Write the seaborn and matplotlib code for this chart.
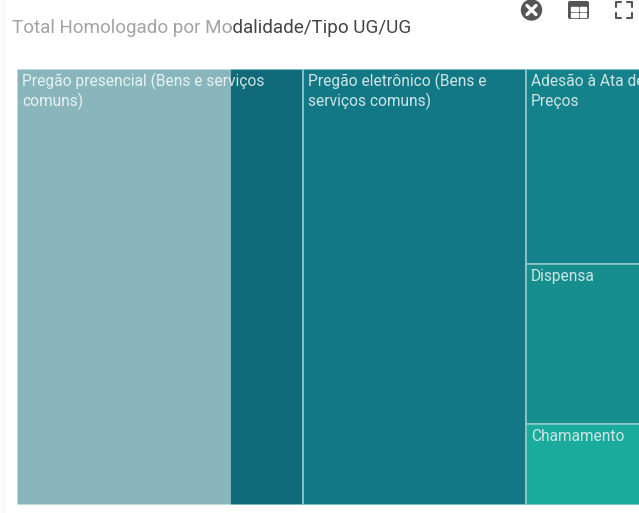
import seaborn as sns
import matplotlib.pyplot as plt
from matplotlib.patches import Circle, Rectangle, FancyBboxPatch

sns.set_theme(style="white")
plt.rcParams['font.family'] = ['Roboto', 'DejaVu Sans']

# Treemap values (one list per column)
labels = [["Pregão presencial (Bens e serviços\ncomuns)"],
          ["Pregão eletrônico (Bens e\nserviços comuns)"],
          ["Adesão à Ata de\nPreços", "Dispensa", "Chamamento"]]
values = [[124.5], [97.0], [37.2, 30.6, 15.5]]
colors = [["#106a7a"], ["#137885"], ["#14828a", "#168e8e", "#1bab9d"]]

title = "Total Homologado por Modalidade/Tipo UG/UG"

W, H = 639, 513
fig = plt.figure(figsize=(W / 100, H / 100), dpi=100)

# Chart runs past the right edge of the picture, like the cropped original
ax = fig.add_axes([17 / W, 8 / H, 700 / W, 436 / H])
total = sum(sum(col) for col in values)
ax.set_xlim(0, total)
ax.set_ylim(0, 1)
ax.axis('off')

x = 0
for col_labels, col_values, col_colors in zip(labels, values, colors):
    col_sum = sum(col_values)
    top = 1
    for name, val, c in zip(col_labels, col_values, col_colors):
        h = val / col_sum
        ax.add_patch(Rectangle((x, top - h), col_sum, h, facecolor=c,
                               edgecolor="#8fc9c9", linewidth=1.2))
        # one text per line so the line pitch stays at 20px
        for i, line in enumerate(name.split("\n")):
            ax.annotate(line, xy=(x, top), xytext=(5, -17 - 20 * i), textcoords='offset pixels',
                        va='baseline', ha='left', color="#cfe5e5", fontsize=11.2,
                        annotation_clip=False)
        top -= h
    x += col_sum

# Pixel layer for the title, toolbar icons and the loading overlay
px = fig.add_axes([0, 0, 1, 1], facecolor='none')
px.set_xlim(0, W)
px.set_ylim(H, 0)
px.axis('off')

px.text(12, 28, title, fontsize=13.55, color="#444444", va='center', ha='left')
px.plot([3, 3], [0, H], color="#f0f0f0", linewidth=1)

# close icon
px.add_patch(Circle((531.5, 10), 10, color="#555555"))
px.plot([527, 536], [5.5, 14.5], color="white", linewidth=2.4)
px.plot([527, 536], [14.5, 5.5], color="white", linewidth=2.4)

# table icon
px.add_patch(FancyBboxPatch((568, 1), 21, 18, boxstyle="round,pad=0,rounding_size=2",
                            facecolor="#555555", edgecolor="none"))
px.add_patch(Rectangle((571, 6.5), 6.5, 4, color="white"))
px.add_patch(Rectangle((579.5, 6.5), 6.5, 4, color="white"))
px.add_patch(Rectangle((571, 12.5), 6.5, 4, color="white"))
px.add_patch(Rectangle((579.5, 12.5), 6.5, 4, color="white"))

# expand icon
for cx, sx in [(616, 1), (632, -1)]:
    for cy, sy in [(2, 1), (18, -1)]:
        px.plot([cx + 5 * sx, cx, cx], [cy, cy, cy + 5 * sy], color="#555555", linewidth=1.5)

# half-white overlay on the left part
px.add_patch(Rectangle((0, 0), 231, H, facecolor="white", alpha=0.51, edgecolor="none", zorder=5))

plt.savefig("out.png", dpi=100)
